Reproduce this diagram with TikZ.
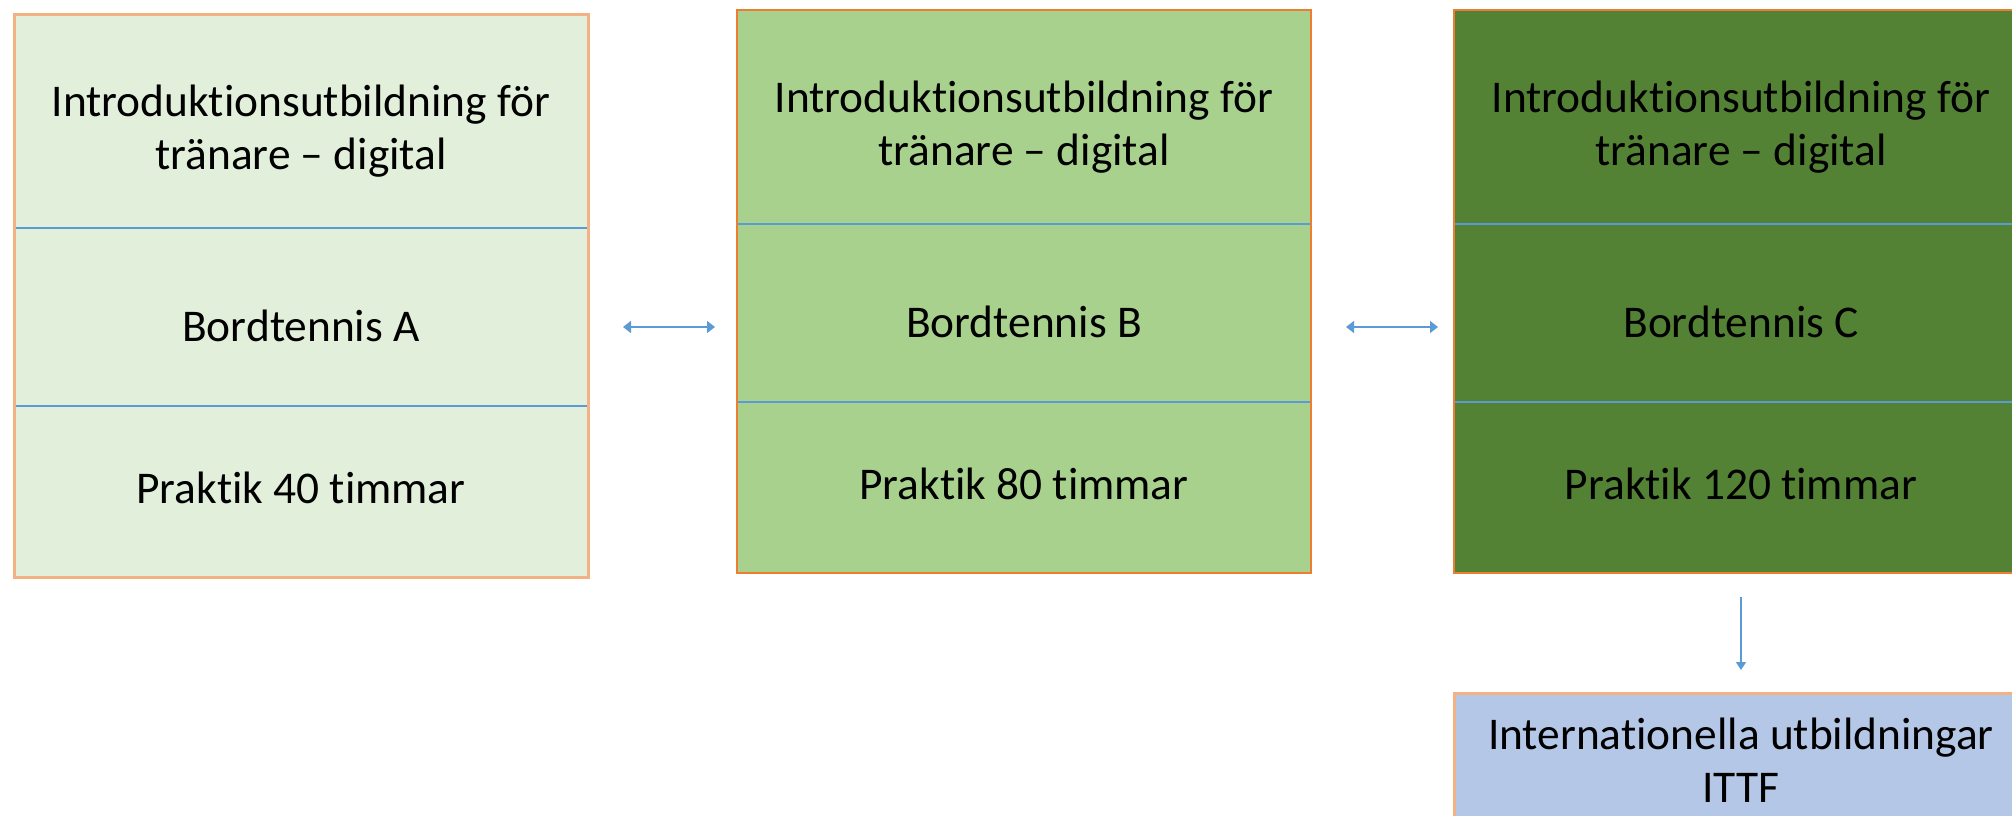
\documentclass[tikz,border=0pt]{standalone}
\usepackage{fontspec}
\setmainfont[Ligatures=NoCommon]{Carlito}
\usetikzlibrary{positioning, arrows.meta}

\definecolor{paleA}{HTML}{E2EFDA}
\definecolor{midB}{HTML}{A9D18E}
\definecolor{darkC}{HTML}{548235}
\definecolor{blueD}{HTML}{B4C7E7}
\definecolor{rimlight}{HTML}{F4B183}
\definecolor{rimdark}{HTML}{ED7D31}
\definecolor{linkblue}{HTML}{5B9BD5}

\begin{document}
\begin{tikzpicture}[x=0.5pt, y=-0.5pt, node distance=0pt,
  font=\fontsize{22.7pt}{26.5pt}\selectfont]
\tikzstyle{sec}=[rectangle, inner sep=0pt, outer sep=0pt, minimum width=287pt, align=center, text=black]
\tikzstyle{head}=[sec, minimum height=107pt, text height=53.5pt, text depth=5pt]
\tikzstyle{mid}=[sec, minimum height=89pt, text height=24pt, text depth=0pt]
\tikzstyle{foot}=[sec, minimum height=85.5pt, text height=16pt, text depth=4pt]
\tikzstyle{divider}=[draw=linkblue, line width=1.25pt]
\tikzstyle{link}=[draw=linkblue, line width=0.75pt, {Triangle[length=4pt,width=6pt]}-{Triangle[length=4pt,width=6pt]}]
\useasboundingbox (0,0) rectangle (2012,815);
\clip (0,0) rectangle (2012,815);

% nivå A
\node[head, fill=paleA, anchor=north west] (A1) at (14,14) {Introduktionsutbildning för\\tränare -- digital};
\node[mid,  fill=paleA, below=of A1]       (A2) {Bordtennis A};
\node[foot, fill=paleA, below=of A2]       (A3) {Praktik 40 timmar};

% nivå B
\node[head, fill=midB, anchor=north west]  (B1) at (737,10) {Introduktionsutbildning för\\tränare -- digital};
\node[mid,  fill=midB, below=of B1]        (B2) {Bordtennis B};
\node[foot, fill=midB, below=of B2]        (B3) {Praktik 80 timmar};

% nivå C
\node[head, fill=darkC, anchor=north west] (C1) at (1454,10) {Introduktionsutbildning för\\tränare -- digital};
\node[mid,  fill=darkC, below=of C1]       (C2) {Bordtennis C};
\node[foot, fill=darkC, below=of C2]       (C3) {Praktik 120 timmar};

\node[sec, fill=blueD, draw=rimlight, line width=1.5pt, minimum height=67pt, below=60pt of C3] (D) {Internationella utbildningar\\ITTF};

\draw[divider] (A1.south west) -- (A1.south east);
\draw[divider] (A2.south west) -- (A2.south east);
\draw[divider] (B1.south west) -- (B1.south east);
\draw[divider] (B2.south west) -- (B2.south east);
\draw[divider] (C1.south west) -- (C1.south east);
\draw[divider] (C2.south west) -- (C2.south east);

\draw[draw=rimlight, line width=1.5pt] (A1.north west) rectangle (A3.south east);
\draw[draw=rimdark, line width=1pt] (B1.north west) rectangle (B3.south east);
\draw[draw=rimdark, line width=1pt] (C1.north west) rectangle (C3.south east);

\path
([yshift=-5pt]A2.east) edge[link, shorten <=17.5pt, shorten >=11pt] ([yshift=-7pt]B2.west)
([yshift=-7pt]B2.east) edge[link, shorten <=17.5pt, shorten >=8pt]  ([yshift=-7pt]C2.west);
\draw[draw=linkblue, line width=0.75pt, -{Triangle[length=4pt,width=5pt]}, shorten <=12pt, shorten >=11.5pt] (C3.south) -- (D.north);

\end{tikzpicture}
\end{document}
